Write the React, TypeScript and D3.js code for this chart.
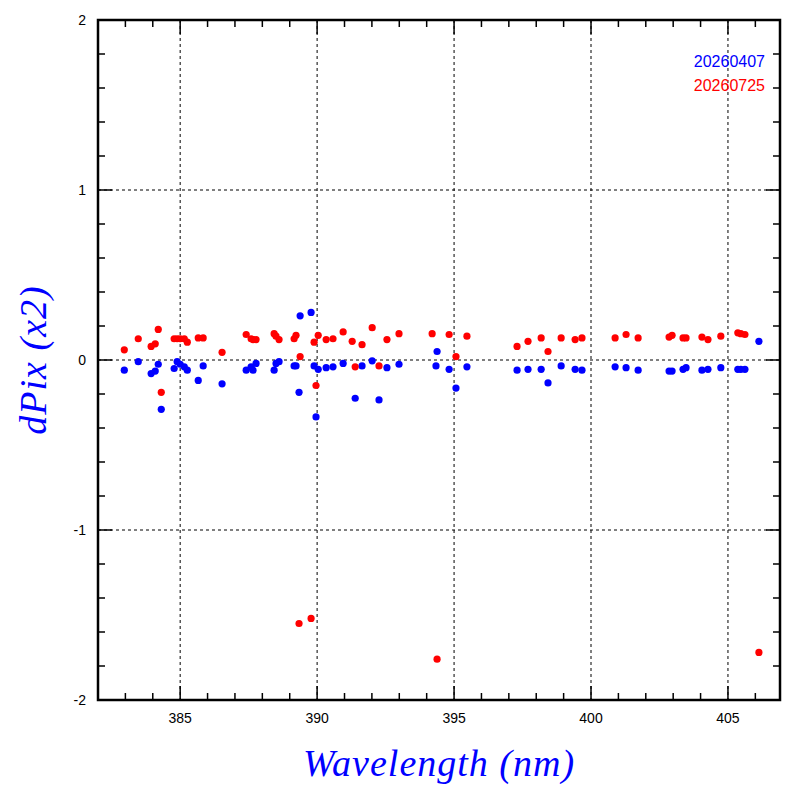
import * as d3 from 'd3';

const blue: [number, number][] = [
  [382.96, -0.06], [383.47, -0.01], [383.94, -0.08], [384.09, -0.065], [384.2, -0.025], [384.31, -0.29],
  [384.78, -0.05], [384.89, -0.01], [385.0, -0.025], [385.15, -0.04], [385.26, -0.06], [385.66, -0.12],
  [385.84, -0.035], [386.53, -0.14], [387.41, -0.06], [387.59, -0.04], [387.66, -0.06], [387.77, -0.02],
  [388.43, -0.06], [388.5, -0.02], [388.61, -0.01], [389.16, -0.035], [389.23, -0.035], [389.34, -0.19],
  [389.38, 0.26], [389.78, 0.28], [389.89, -0.035], [389.96, -0.335], [390.04, -0.055], [390.33, -0.045],
  [390.58, -0.04], [390.95, -0.02], [391.39, -0.225], [391.64, -0.035], [392.01, -0.005], [392.26, -0.235],
  [392.55, -0.045], [392.99, -0.025], [394.34, -0.035], [394.38, 0.05], [394.82, -0.055], [395.07, -0.165],
  [395.47, -0.04], [397.3, -0.06], [397.7, -0.055], [398.18, -0.055], [398.43, -0.135], [398.91, -0.035],
  [399.42, -0.055], [399.67, -0.06], [400.88, -0.04], [401.28, -0.045], [401.72, -0.06], [402.85, -0.065],
  [402.96, -0.065], [403.36, -0.055], [403.47, -0.045], [404.05, -0.06], [404.27, -0.055], [404.74, -0.045],
  [405.36, -0.055], [405.47, -0.055], [405.62, -0.055], [406.13, 0.11],
];

const red: [number, number][] = [
  [382.96, 0.06], [383.47, 0.125], [383.94, 0.08], [384.09, 0.095], [384.2, 0.18], [384.31, -0.19],
  [384.78, 0.125], [384.89, 0.125], [385.0, 0.125], [385.15, 0.125], [385.26, 0.105], [385.66, 0.13],
  [385.84, 0.13], [386.53, 0.045], [387.41, 0.15], [387.59, 0.125], [387.66, 0.12], [387.77, 0.12],
  [388.43, 0.155], [388.5, 0.14], [388.61, 0.12], [389.16, 0.125], [389.23, 0.145], [389.34, -1.55],
  [389.38, 0.02], [389.78, -1.52], [389.89, 0.105], [389.96, -0.15], [390.04, 0.145], [390.33, 0.12],
  [390.58, 0.125], [390.95, 0.165], [391.28, 0.11], [391.39, -0.04], [391.64, 0.09], [392.01, 0.19],
  [392.26, -0.035], [392.55, 0.12], [392.99, 0.155], [394.2, 0.155], [394.38, -1.76], [394.82, 0.15],
  [395.07, 0.02], [395.47, 0.14], [397.3, 0.08], [397.7, 0.11], [398.18, 0.13], [398.43, 0.05],
  [398.91, 0.13], [399.42, 0.12], [399.67, 0.13], [400.88, 0.13], [401.28, 0.15], [401.72, 0.13],
  [402.85, 0.135], [402.96, 0.145], [403.36, 0.13], [403.47, 0.13], [404.05, 0.135], [404.27, 0.12],
  [404.74, 0.14], [405.36, 0.16], [405.47, 0.155], [405.62, 0.15], [406.13, -1.72],
];

const series = [
  { name: '20260407', color: '#0000ff', pts: blue },
  { name: '20260725', color: '#ff0000', pts: red },
];

const xMajor = [385, 390, 395, 400, 405];
const yMajor = [-2, -1, 0, 1, 2];

export default function App() {
  const L = 98, R = 780, T = 20, B = 700;
  const x = d3.scaleLinear().domain([382, 406.9]).range([L, R]);
  const y = d3.scaleLinear().domain([-2, 2]).range([B, T]);
  const xMinor = d3.range(383, 407, 1);
  const yMinor = d3.range(-2, 2.001, 0.2);
  const font = 'Liberation Sans, Arial, sans-serif';

  return (
    <svg width={797} height={797} style={{ position: 'absolute', left: 0, top: 0, background: '#fff' }}>
      {xMajor.map(v => (
        <line key={'gx' + v} x1={x(v)} x2={x(v)} y1={T} y2={B} stroke="#000" strokeDasharray="3,3" strokeWidth={1} />
      ))}
      {yMajor.slice(1, -1).map(v => (
        <line key={'gy' + v} x1={L} x2={R} y1={y(v)} y2={y(v)} stroke="#000" strokeDasharray="3,3" strokeWidth={1} />
      ))}
      {xMinor.map(v => {
        const len = v % 5 === 0 ? 14 : 7;
        return (
          <g key={'tx' + v}>
            <line x1={x(v)} x2={x(v)} y1={B} y2={B - len} stroke="#000" strokeWidth={1.5} />
            <line x1={x(v)} x2={x(v)} y1={T} y2={T + len} stroke="#000" strokeWidth={1.5} />
          </g>
        );
      })}
      {yMinor.map((v, i) => {
        const len = i % 5 === 0 ? 14 : 7;
        return (
          <g key={'ty' + i}>
            <line x1={L} x2={L + len} y1={y(v)} y2={y(v)} stroke="#000" strokeWidth={1.5} />
            <line x1={R} x2={R - len} y1={y(v)} y2={y(v)} stroke="#000" strokeWidth={1.5} />
          </g>
        );
      })}
      <rect x={L} y={T} width={R - L} height={B - T} fill="none" stroke="#000" strokeWidth={2.5} />
      {xMajor.map(v => (
        <text key={'lx' + v} x={x(v)} y={B + 23} textAnchor="middle" fontFamily={font} fontSize={14}>{v}</text>
      ))}
      {yMajor.map(v => (
        <text key={'ly' + v} x={L - 12} y={y(v) + 5} textAnchor="end" fontFamily={font} fontSize={14}>{v}</text>
      ))}
      {series.map(s => s.pts.map((p, i) => (
        <circle key={s.name + i} cx={x(p[0])} cy={y(p[1])} r={3.6} fill={s.color} />
      )))}
      {series.map((s, i) => (
        <text key={'lg' + s.name} x={765} y={67 + i * 24} textAnchor="end" fontFamily={font} fontSize={16} fill={s.color}>{s.name}</text>
      ))}
      <text x={(L + R) / 2} y={776} textAnchor="middle" fontFamily="Liberation Serif, serif" fontStyle="italic" fontSize={38} letterSpacing={1} fill="#0000ff">Wavelength (nm)</text>
      <text transform={`translate(46,${(T + B) / 2}) rotate(-90)`} textAnchor="middle" fontFamily="Liberation Serif, serif" fontStyle="italic" fontSize={38} letterSpacing={1} fill="#0000ff">dPix (x2)</text>
    </svg>
  );
}
